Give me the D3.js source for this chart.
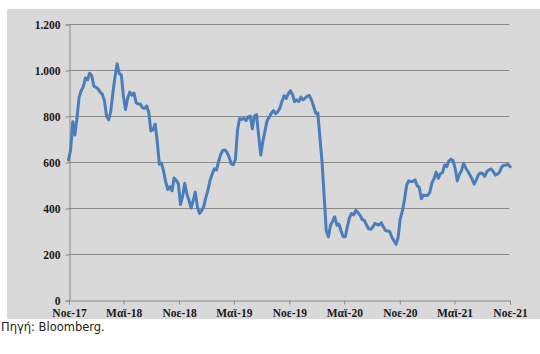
<!DOCTYPE html>
<html>
<head>
<meta charset="utf-8">
<script src="https://cdn.jsdelivr.net/npm/d3@7"></script>
<style>
  html, body { margin: 0; padding: 0; background: #ffffff; }
  svg { display: block; }
</style>
</head>
<body>
<svg id="chart" width="540" height="354"></svg>
<script>
// ---- data (weekly readings from 1 Nov 2017) ----
const startDate = "2017-11-01";
const weeklyValues = [
  609, 652, 775, 717, 790, 880, 910, 928, 965, 957,
  986, 975, 930, 925, 918, 904, 895, 866, 800, 783,
  820, 900, 970, 1027, 985, 978, 885, 828, 877, 904,
  890, 900, 858, 852, 852, 836, 833, 844, 815, 735,
  740, 765, 690, 590, 595, 560, 513, 480, 493, 475,
  530, 520, 505, 415, 450, 508, 462, 434, 400, 432,
  469, 405, 376, 388, 406, 446, 477, 520, 548, 570,
  565, 600, 632, 650, 652, 642, 622, 592, 588, 612,
  740, 789, 785, 790, 780, 795, 800, 745, 800, 806,
  715, 630, 690, 735, 780, 795, 812, 823, 810, 818,
  834, 862, 888, 876, 896, 910, 894, 862, 870, 863,
  882, 870, 878, 886, 889, 870, 842, 812, 813, 705,
  600, 450, 300, 275, 325, 342, 362, 325, 330, 300,
  275, 275, 320, 358, 376, 370, 390, 380, 368, 350,
  346, 328, 310, 307, 317, 333, 328, 326, 336, 318,
  302, 300, 298, 274, 258, 242, 272, 353, 386, 435,
  498, 518, 515, 516, 522, 497, 490, 440, 456, 454,
  455, 468, 509, 528, 556, 529, 549, 554, 587, 580,
  604, 612, 606, 572, 518, 546, 563, 594, 574, 560,
  544, 526, 504, 522, 544, 553, 550, 537, 558, 566,
  570, 559, 543, 547, 556, 578, 586, 587, 589, 580
];
const yTicks = [0, 200, 400, 600, 800, 1000, 1200];
const xTickDates = ["2017-11-01", "2018-05-01", "2018-11-01", "2019-05-01", "2019-11-01",
                    "2020-05-01", "2020-11-01", "2021-05-01", "2021-11-01"];
const xTickLabels = ["Νοε-17", "Μαϊ-18", "Νοε-18", "Μαϊ-19", "Νοε-19",
                     "Μαϊ-20", "Νοε-20", "Μαϊ-21", "Νοε-21"];
const sourceText = "Πηγή: Bloomberg.";

// ---- build ----
const parse = d3.utcParse("%Y-%m-%d");
const start = parse(startDate);
const series = weeklyValues.map((v, i) => ({ date: d3.utcDay.offset(start, i * 7), value: v }));

const svg = d3.select("#chart");
const mLeft = 68.5, mRight = 509.5, mTop = 24, mBottom = 300;

svg.append("rect").attr("x", 7).attr("y", 9).attr("width", 533).attr("height", 310).attr("fill", "#d9d9d9");

const x = d3.scaleUtc().domain([parse(xTickDates[0]), parse(xTickDates[xTickDates.length - 1])]).range([mLeft, mRight]);
const y = d3.scaleLinear().domain([0, 1200]).range([mBottom, mTop]);

// gridlines
svg.append("g").selectAll("line").data(yTicks.filter(t => t > 0)).join("line")
  .attr("x1", mLeft).attr("x2", mRight)
  .attr("y1", d => Math.round(y(d)) + 0.5).attr("y2", d => Math.round(y(d)) + 0.5)
  .attr("stroke", "#8a8a8a").attr("stroke-width", 1);

// y axis
const yAxis = d3.axisLeft(y).tickValues(yTicks).tickSize(4).tickPadding(5)
  .tickFormat(d => d3.format(",")(d).replace(/,/g, "."));
const gy = svg.append("g").attr("transform", `translate(${Math.round(mLeft) + 0.5},0.5)`).call(yAxis);
gy.select(".domain").attr("stroke", "#8a8a8a");
gy.selectAll(".tick line").attr("stroke", "#8a8a8a");
gy.selectAll("text").attr("font-family", "'Liberation Serif', 'Times New Roman', serif")
  .attr("font-weight", "bold").attr("font-size", "11.5px").attr("fill", "#1a1a1a");

// x axis
const xAxis = d3.axisBottom(x).tickValues(xTickDates.map(parse)).tickSize(4).tickPadding(4.5)
  .tickFormat((d, i) => xTickLabels[i]);
const gx = svg.append("g").attr("transform", `translate(0.5,${Math.round(mBottom) + 0.5})`).call(xAxis);
gx.select(".domain").attr("stroke", "#8a8a8a");
gx.selectAll(".tick line").attr("stroke", "#8a8a8a");
gx.selectAll("text").attr("font-family", "'Liberation Serif', 'Times New Roman', serif")
  .attr("font-weight", "bold").attr("font-size", "11.5px").attr("fill", "#1a1a1a");

// line
const line = d3.line().x(d => x(d.date)).y(d => y(d.value)).curve(d3.curveLinear);
svg.append("path").datum(series).attr("d", line)
  .attr("fill", "none").attr("stroke", "#4a7ebb").attr("stroke-width", 3)
  .attr("stroke-linejoin", "round").attr("stroke-linecap", "round");

// source
svg.append("text").attr("x", 1).attr("y", 330.5).text(sourceText)
  .attr("font-family", "'DejaVu Sans', Verdana, sans-serif").attr("font-size", "11.5px").attr("fill", "#222");
</script>
</body>
</html>
